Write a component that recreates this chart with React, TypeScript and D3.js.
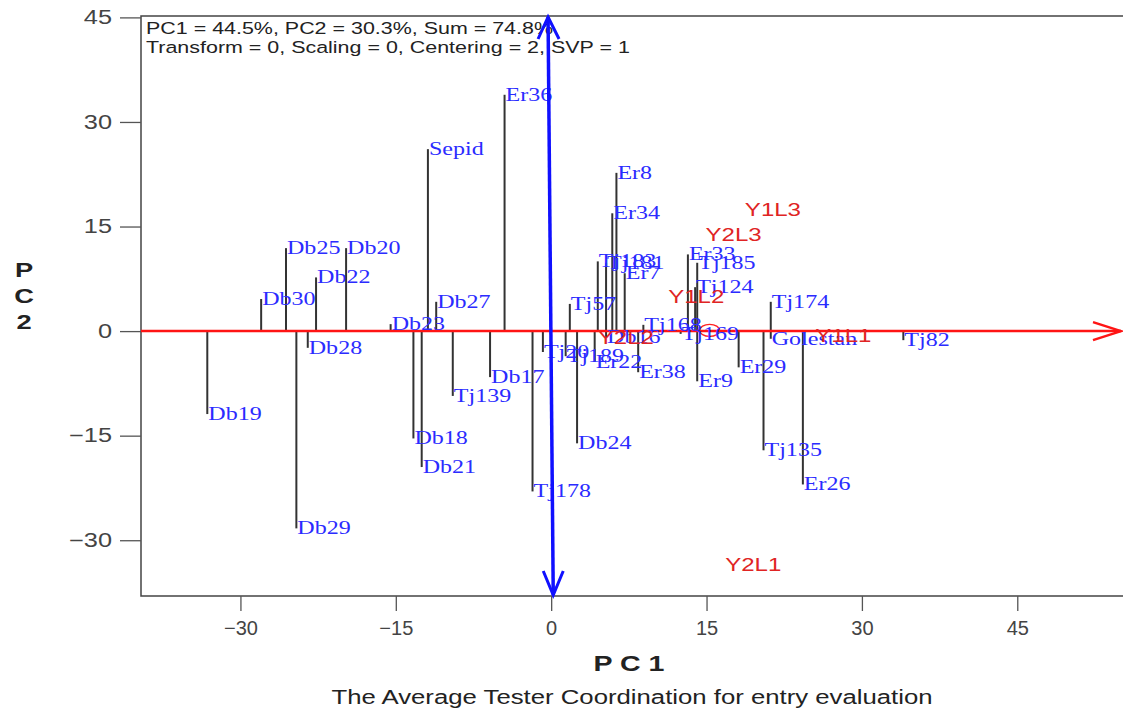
import React, { useEffect, useRef } from 'react';
import * as d3 from 'd3';

// entries (genotypes): name, PC1, PC2
const entryNames = ['Er36', 'Sepid', 'Er8', 'Er34', 'Db25', 'Db20', 'Db22', 'Db30', 'Db28', 'Db23', 'Db27', 'Db19', 'Db18', 'Db21', 'Db29', 'Tj139', 'Db17', 'Tj178', 'Db24', 'Tj135', 'Er26', 'Er29', 'Er9', 'Golestan', 'Tj174', 'Tj82', 'Tj185', 'Er33', 'Tj124', 'Tj168', 'Tj169', 'Tj183', 'Tj181', 'Er7', 'Tj57', 'Er22', 'Er38', 'Tj20', 'Tj189', 'Db16'];
const entryPC1 = [-4.5, -11.9, 6.3, 5.9, -25.6, -19.8, -22.7, -28.0, -23.5, -15.5, -11.1, -33.2, -13.3, -12.5, -24.6, -9.5, -5.9, -1.8, 2.5, 20.5, 24.3, 18.1, 14.1, 21.2, 21.2, 34.0, 14.1, 13.2, 13.9, 8.9, 12.5, 4.5, 5.3, 7.1, 1.8, 4.2, 8.4, -0.8, 1.4, 5.3];
const entryPC2 = [33.9, 26.1, 22.7, 16.9, 11.9, 11.9, 7.7, 4.6, -2.4, 1.0, 4.2, -11.9, -15.4, -19.5, -28.3, -9.3, -6.6, -23.0, -16.1, -17.1, -22.0, -5.2, -7.2, -1.1, 4.2, -1.3, 9.8, 11.0, 6.3, 0.9, -0.4, 10.0, 9.8, 8.3, 3.9, -4.4, -5.9, -3.0, -3.6, -0.9];

// testers (environments)
const testerNames = ['Y1L3', 'Y2L3', 'Y1L2', 'Y1L1', 'Y2L1', 'Y2L2'];
const testerPC1 = [18.7, 14.9, 11.3, 25.5, 16.8, 4.5];
const testerPC2 = [17.4, 13.8, 4.9, -0.7, -33.6, -1.0];

// average environment marker
const avgEnv = [15.3, 0.1];

const xTicks = [-30, -15, 0, 15, 30, 45];
const yTicks = [-30, -15, 0, 15, 30, 45];
const xDomain = [-39.6, 55.4];
const yDomain = [-38, 45.2];

const headerLines = [
  'PC1 = 44.5%, PC2 = 30.3%, Sum = 74.8%',
  'Transform = 0, Scaling = 0, Centering = 2, SVP = 1',
];

export default function App() {
  const svgRef = useRef<SVGSVGElement>(null);

  useEffect(() => {
    const W = 1123;
    const H = 708;
    const left = 141, right = 1125, top = 16, bottom = 596;
    const SX = 1.3; // the original is stretched horizontally

    const svg = d3.select(svgRef.current);
    svg.selectAll('*').remove();
    svg.attr('width', W).attr('height', H);

    const x = d3.scaleLinear().domain(xDomain).range([left, right]);
    const y = d3.scaleLinear().domain(yDomain).range([bottom, top]);

    const sans = "'Liberation Sans', Arial, sans-serif";
    const serif = "'Liberation Serif', 'Times New Roman', serif";

    // frame
    svg.append('path')
      .attr('d', `M${right},${top}H${left}V${bottom}H${right}`)
      .attr('fill', 'none')
      .attr('stroke', '#444')
      .attr('stroke-width', 1.5);

    // y axis
    const yAxis = svg.append('g')
      .attr('transform', `translate(${left},0)`)
      .call(d3.axisLeft(y).tickValues(yTicks).tickSize(21).tickPadding(8).tickFormat(d3.format('d')));
    yAxis.select('.domain').remove();
    yAxis.selectAll('line').attr('stroke', '#555').attr('stroke-width', 1.3);
    yAxis.selectAll('text')
      .attr('font-family', sans)
      .attr('font-size', 19.5)
      .attr('fill', '#444')
      .attr('x', -29 / SX)
      .attr('transform', `scale(${SX},1)`);

    // x axis
    const xAxis = svg.append('g')
      .attr('transform', `translate(0,${bottom})`)
      .call(d3.axisBottom(x).tickValues(xTicks).tickSize(15).tickPadding(10).tickFormat(d3.format('d')));
    xAxis.select('.domain').remove();
    xAxis.selectAll('line').attr('stroke', '#555').attr('stroke-width', 1.3);
    xAxis.selectAll('text')
      .attr('font-family', sans)
      .attr('font-size', 20)
      .attr('fill', '#444');

    // axis titles
    svg.append('text')
      .attr('transform', `translate(629,663) scale(${SX},1)`)
      .attr('text-anchor', 'middle')
      .attr('dominant-baseline', 'central')
      .attr('font-family', sans)
      .attr('font-size', 22)
      .attr('font-weight', 'bold')
      .attr('fill', '#222')
      .text('P C 1');

    ['P', 'C', '2'].forEach((ch, i) => {
      svg.append('text')
        .attr('transform', `translate(24,${270 + i * 26}) scale(${SX},1)`)
        .attr('text-anchor', 'middle')
        .attr('dominant-baseline', 'central')
        .attr('font-family', sans)
        .attr('font-size', 21)
        .attr('font-weight', 'bold')
        .attr('fill', '#222')
        .text(ch);
    });

    svg.append('text')
      .attr('transform', `translate(632,697) scale(${SX},1)`)
      .attr('text-anchor', 'middle')
      .attr('dominant-baseline', 'central')
      .attr('font-family', sans)
      .attr('font-size', 19.8)
      .attr('fill', '#222')
      .text('The Average Tester Coordination for entry evaluation');

    // header info
    headerLines.forEach((t, i) => {
      svg.append('text')
        .attr('transform', `translate(${left + 5},${28 + i * 19}) scale(${SX},1)`)
        .attr('dominant-baseline', 'central')
        .attr('font-family', sans)
        .attr('font-size', 16.5)
        .attr('fill', '#222')
        .text(t);
    });

    const entries = entryNames.map((name, i) => ({ name, pc1: entryPC1[i], pc2: entryPC2[i] }));
    const testers = testerNames.map((name, i) => ({ name, pc1: testerPC1[i], pc2: testerPC2[i] }));

    // drop lines from the ATC abscissa
    svg.append('g')
      .selectAll('line')
      .data(entries)
      .join('line')
      .attr('x1', d => x(d.pc1))
      .attr('x2', d => x(d.pc1))
      .attr('y1', y(0))
      .attr('y2', d => y(d.pc2))
      .attr('stroke', '#333')
      .attr('stroke-width', 2);

    // ATC abscissa (red arrow)
    const y0 = y(0);
    const xEnd = x(xDomain[1]) - 4;
    svg.append('line')
      .attr('x1', left).attr('x2', xEnd)
      .attr('y1', y0).attr('y2', y0)
      .attr('stroke', '#ff1414')
      .attr('stroke-width', 2.5);
    svg.append('path')
      .attr('d', `M${xEnd - 28},${y0 - 9}L${xEnd},${y0}L${xEnd - 28},${y0 + 9}`)
      .attr('fill', 'none')
      .attr('stroke', '#ff1414')
      .attr('stroke-width', 2.5);

    // average environment circle
    svg.append('ellipse')
      .attr('cx', x(avgEnv[0])).attr('cy', y(avgEnv[1]))
      .attr('rx', 10).attr('ry', 6)
      .attr('fill', 'none')
      .attr('stroke', '#ff2020')
      .attr('stroke-width', 1.3);

    // entry labels
    svg.append('g')
      .selectAll('text')
      .data(entries)
      .join('text')
      .attr('transform', d => `translate(${x(d.pc1) + 1},${y(d.pc2)}) scale(${SX},1)`)
      .attr('dominant-baseline', 'central')
      .attr('font-family', serif)
      .attr('font-size', 18.5)
      .attr('fill', '#2b2bff')
      .text(d => d.name);

    // tester labels
    svg.append('g')
      .selectAll('text')
      .data(testers)
      .join('text')
      .attr('transform', d => `translate(${x(d.pc1)},${y(d.pc2)}) scale(${SX},1)`)
      .attr('dominant-baseline', 'central')
      .attr('font-family', sans)
      .attr('font-size', 18.5)
      .attr('fill', '#e02424')
      .text(d => d.name);

    // ATC ordinate (blue double arrow)
    const xt = x(-0.3), yt = y(yDomain[1]) + 1;
    const xb = x(0.2), yb = y(yDomain[0]) - 1;
    svg.append('line')
      .attr('x1', xt).attr('y1', yt)
      .attr('x2', xb).attr('y2', yb)
      .attr('stroke', '#1010ff')
      .attr('stroke-width', 3.5);
    svg.append('path')
      .attr('d', `M${xt - 10},${yt + 22}L${xt},${yt}L${xt + 11},${yt + 22}`)
      .attr('fill', 'none')
      .attr('stroke', '#1010ff')
      .attr('stroke-width', 3);
    svg.append('path')
      .attr('d', `M${xb - 10},${yb - 24}L${xb},${yb}L${xb + 10},${yb - 24}`)
      .attr('fill', 'none')
      .attr('stroke', '#1010ff')
      .attr('stroke-width', 3);
  }, []);

  return (
    <svg
      ref={svgRef}
      style={{ position: 'absolute', left: 0, top: 0, background: '#fff' }}
    />
  );
}
